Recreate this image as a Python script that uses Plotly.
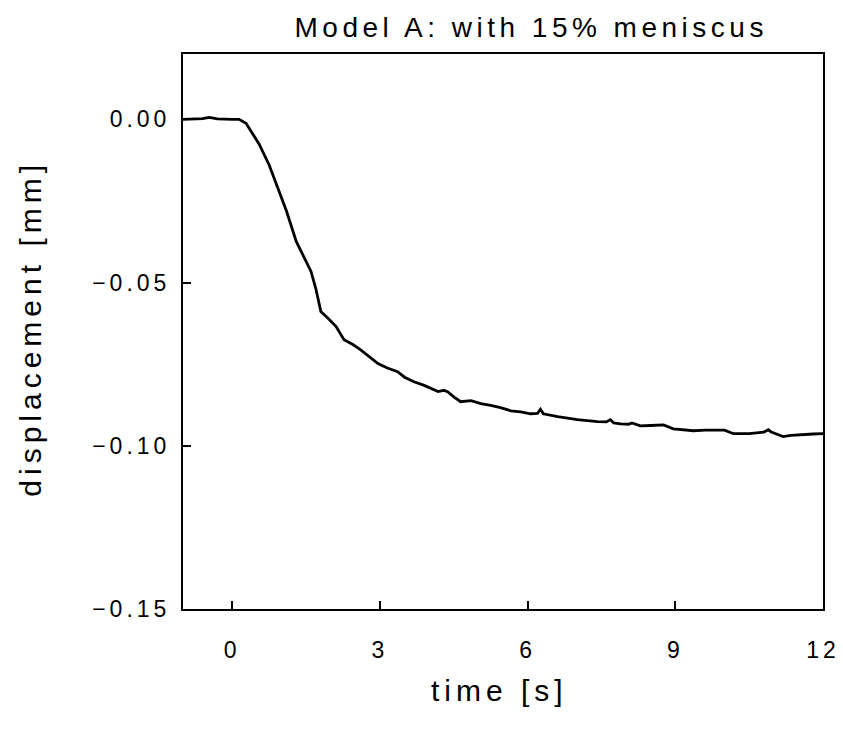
import plotly.graph_objects as go

# time [s]
time_s = [-1.0, -0.87, -0.6, -0.47, -0.3, 0.0, 0.14, 0.28, 0.4, 0.55, 0.75, 0.93, 1.1, 1.3,
          1.45, 1.6, 1.7, 1.8, 1.95, 2.11, 2.27, 2.45, 2.61, 2.8, 2.96, 3.15, 3.36, 3.5,
          3.69, 3.9, 4.18, 4.3, 4.38, 4.5, 4.64, 4.85, 5.05, 5.25, 5.45, 5.66, 5.86, 6.06,
          6.2, 6.26, 6.32, 6.61, 7.01, 7.42, 7.6, 7.68, 7.75, 7.89, 8.05, 8.12, 8.29, 8.5,
          8.76, 8.96, 9.37, 9.6, 9.91, 10.0, 10.18, 10.5, 10.8, 10.89, 10.95, 11.19, 11.35,
          11.53, 11.8, 12.0]
# displacement [mm]
displacement_mm = [0.0, 0.0, 0.0002, 0.0006, 0.0001, 0.0, 0.0, -0.0012, -0.004, -0.0077,
                   -0.014, -0.021, -0.028, -0.0374, -0.042, -0.0466, -0.052, -0.0589, -0.061,
                   -0.0635, -0.0675, -0.069, -0.0706, -0.073, -0.0748, -0.0762, -0.0773,
                   -0.079, -0.0804, -0.0815, -0.0834, -0.083, -0.0835, -0.085, -0.0865,
                   -0.0862, -0.0871, -0.0876, -0.0883, -0.0893, -0.0896, -0.0902, -0.0901,
                   -0.0888, -0.0902, -0.0911, -0.092, -0.0926, -0.0927, -0.092, -0.093,
                   -0.0933, -0.0934, -0.093, -0.0939, -0.0938, -0.0936, -0.0948, -0.0954,
                   -0.0952, -0.0951, -0.0952, -0.0963, -0.0963, -0.0958, -0.0951, -0.0958,
                   -0.0972, -0.0968, -0.0966, -0.0964, -0.0963]

x_ticks = [0, 3, 6, 9, 12]
x_tick_labels = ["0", "3", "6", "9", "12"]
y_ticks = [0.0, -0.05, -0.10, -0.15]
y_tick_labels = ["0.00", "\u22120.05", "\u22120.10", "\u22120.15"]

title_text = "Model A: with 15% meniscus"
x_title = "time [s]"
y_title = "displacement [mm]"

FONT = "Liberation Sans, Arial, sans-serif"

fig = go.Figure()
fig.add_trace(go.Scatter(x=time_s, y=displacement_mm, mode="lines",
                         line=dict(color="black", width=2.8), showlegend=False,
                         hoverinfo="skip"))

axis_common = dict(showgrid=False, zeroline=False, showline=True, linecolor="black",
                   linewidth=2, mirror=True, ticks="inside", ticklen=8, tickwidth=2,
                   tickcolor="black", tickfont=dict(family=FONT, size=23, color="black"))

fig.update_xaxes(range=[-1, 12], tickvals=x_ticks, ticktext=x_tick_labels,
                 ticklabelstandoff=19, **axis_common)
fig.update_yaxes(range=[-0.15, 0.02], tickvals=y_ticks, ticktext=y_tick_labels,
                 ticklabelstandoff=6, **axis_common)

fig.update_layout(
    width=843, height=737,
    margin=dict(l=183, r=20, t=54, b=128, autoexpand=False),
    paper_bgcolor="white", plot_bgcolor="white",
    font=dict(family=FONT, color="black"),
    annotations=[
        dict(text=title_text, xref="paper", yref="paper", x=0.544, y=1.047,
             showarrow=False, xanchor="center", yanchor="middle",
             font=dict(family=FONT, size=28, color="black")),
        dict(text=x_title, xref="paper", yref="paper", x=0.495, y=-0.146,
             showarrow=False, xanchor="center", yanchor="middle",
             font=dict(family=FONT, size=30, color="black")),
        dict(text=y_title, xref="paper", yref="paper", x=-0.239, y=0.506,
             showarrow=False, xanchor="center", yanchor="middle", textangle=-90,
             font=dict(family=FONT, size=30, color="black")),
    ],
)

post = """
document.body.style.margin = '0';
document.body.style.padding = '0';
var gd = document.getElementById('{plot_id}');
function ls(){
  gd.querySelectorAll('.xtick text, .ytick text').forEach(function(t){ t.style.letterSpacing = '4px'; });
  gd.querySelectorAll('.annotation-text').forEach(function(t){ t.style.letterSpacing = '5px'; });
  var a = gd.querySelectorAll('.annotation-text');
  if (a.length) { a[0].style.letterSpacing = '4.5px'; }
}
ls();
if (gd.on) { gd.on('plotly_afterplot', ls); }
"""

fig.write_html("out.html", post_script=post, config={"displayModeBar": False})
